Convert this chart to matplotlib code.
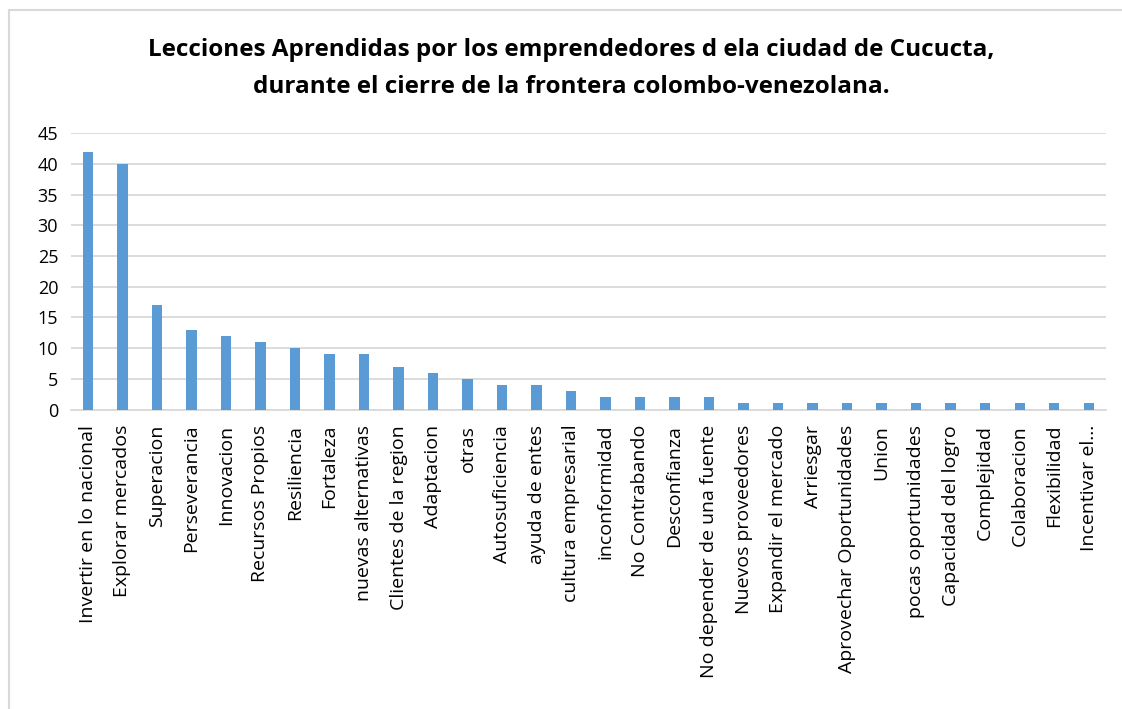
import numpy as np
import matplotlib
matplotlib.use("Agg")
import matplotlib.pyplot as plt
from matplotlib.patches import Rectangle

plt.rcParams['font.family'] = ['Open Sans', 'DejaVu Sans']

lecciones = [
    "Invertir en lo nacional", "Explorar mercados", "Superacion", "Perseverancia",
    "Innovacion", "Recursos Propios", "Resiliencia", "Fortaleza",
    "nuevas alternativas", "Clientes de la region", "Adaptacion", "otras",
    "Autosuficiencia", "ayuda de entes", "cultura empresarial", "inconformidad",
    "No Contrabando", "Desconfianza", "No depender de una fuente",
    "Nuevos proveedores", "Expandir el mercado", "Arriesgar",
    "Aprovechar Oportunidades", "Union", "pocas oportunidades",
    "Capacidad del logro", "Complejidad", "Colaboracion", "Flexibilidad",
    "Incentivar el...",
]
frecuencia = [42, 40, 17, 13, 12, 11, 10, 9, 9, 7, 6, 5, 4, 4, 3,
              2, 2, 2, 2, 1, 1, 1, 1, 1, 1, 1, 1, 1, 1, 1]
y_ticks = [0, 5, 10, 15, 20, 25, 30, 35, 40, 45]

titulo = ("Lecciones Aprendidas por los emprendedores d ela ciudad de Cucucta,\n"
          "durante el cierre de la frontera colombo-venezolana.")

fig = plt.figure(figsize=(11.22, 7.09), dpi=100)
ax = fig.add_axes([0.063, 0.4224, 0.9227, 0.3896])

x = np.arange(len(lecciones))
ax.bar(x, frecuencia, width=0.3, color="#5B9BD5", zorder=3)

ax.set_xlim(-0.5, len(lecciones) - 0.5)
ax.set_ylim(0, 45)
ax.set_yticks(y_ticks)
ax.set_yticklabels([str(v) for v in y_ticks], fontsize=13)
ax.set_xticks(x)
ax.set_xticklabels(lecciones, rotation=90, fontsize=14)
ax.tick_params(axis="both", length=0, colors="#000000")
ax.tick_params(axis="y", pad=9)
ax.tick_params(axis="x", pad=11)

ax.grid(axis="y", color="#D9D9D9", linewidth=1.3, zorder=0)
for side in ["top", "right", "left"]:
    ax.spines[side].set_visible(False)
ax.spines["bottom"].set_color("#D9D9D9")
ax.spines["bottom"].set_linewidth(1.3)

fig.text(0.509, 0.904, titulo, ha="center", va="center", fontsize=17.5,
         fontweight="bold", linespacing=1.72)

# light frame around the chart area
fig.patches.append(Rectangle((9 / 1122, -0.05), 1.2, (709 - 10) / 709 + 0.05,
                             transform=fig.transFigure, fill=False,
                             edgecolor="#D9D9D9", linewidth=1.5))

fig.savefig("out.png", dpi=100)
